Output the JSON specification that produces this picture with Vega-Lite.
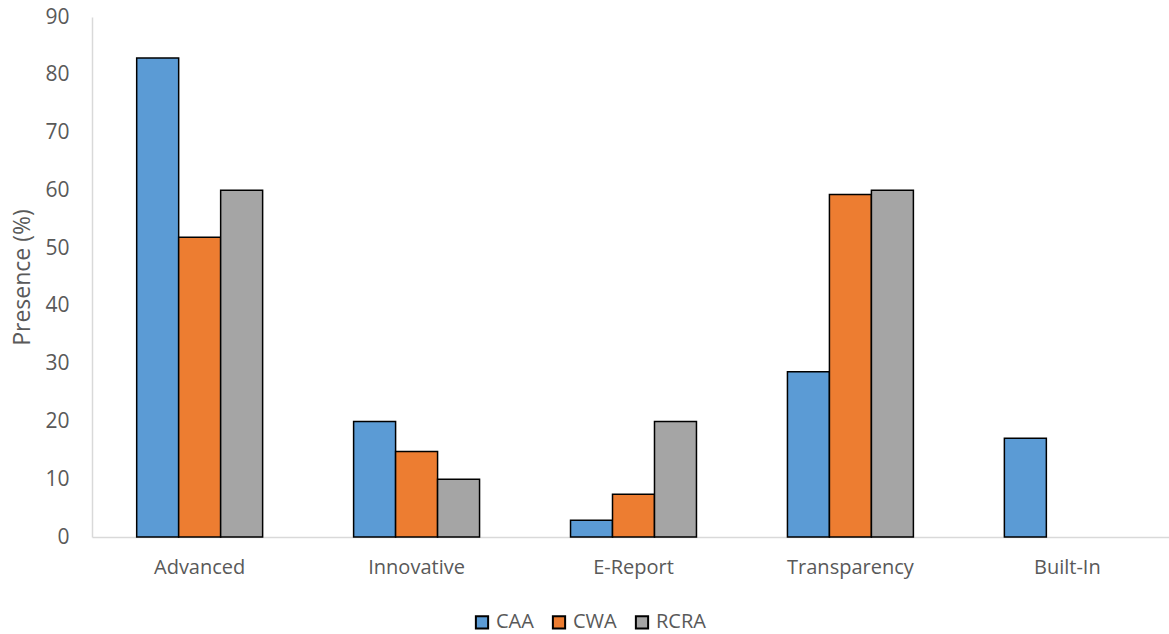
{
  "$schema": "https://vega.github.io/schema/vega-lite/v6.json",
  "width": 1083,
  "height": 520,
  "autosize": {"type": "none"},
  "padding": {"left": 92, "top": 17, "right": 0, "bottom": 97},
  "background": "white",
  "config": {
    "view": {"stroke": null},
    "font": "Open Sans",
    "text": {"color": "#595959"}
  },
  "data": {
    "values": [
      {"category": "Advanced", "act": "CAA", "presence": 82.9},
      {"category": "Advanced", "act": "CWA", "presence": 51.9},
      {"category": "Advanced", "act": "RCRA", "presence": 60},
      {"category": "Innovative", "act": "CAA", "presence": 20},
      {"category": "Innovative", "act": "CWA", "presence": 14.8},
      {"category": "Innovative", "act": "RCRA", "presence": 10},
      {"category": "E-Report", "act": "CAA", "presence": 2.9},
      {"category": "E-Report", "act": "CWA", "presence": 7.4},
      {"category": "E-Report", "act": "RCRA", "presence": 20},
      {"category": "Transparency", "act": "CAA", "presence": 28.6},
      {"category": "Transparency", "act": "CWA", "presence": 59.3},
      {"category": "Transparency", "act": "RCRA", "presence": 60},
      {"category": "Built-In", "act": "CAA", "presence": 17.1}
    ]
  },
  "mark": {"type": "bar", "stroke": "black", "strokeWidth": 1.5},
  "encoding": {
    "x": {
      "field": "category",
      "type": "nominal",
      "sort": ["Advanced", "Innovative", "E-Report", "Transparency", "Built-In"],
      "scale": {"paddingInner": 0.4194, "paddingOuter": 0.206},
      "axis": {
        "title": null,
        "labelAngle": 0,
        "labelFont": "Open Sans",
        "labelFontSize": 20,
        "labelColor": "#595959",
        "labelPadding": 20,
        "ticks": false,
        "domainColor": "#d9d9d9",
        "domainWidth": 1.5
      }
    },
    "xOffset": {
      "field": "act",
      "type": "nominal",
      "sort": ["CAA", "CWA", "RCRA"],
      "scale": {"paddingInner": 0, "paddingOuter": 0}
    },
    "y": {
      "field": "presence",
      "type": "quantitative",
      "scale": {"domain": [0, 90], "nice": false},
      "axis": {
        "title": "Presence (%)",
        "titleFont": "Open Sans",
        "titleFontSize": 23,
        "titleFontWeight": "normal",
        "titleColor": "#595959",
        "titlePadding": 10,
        "values": [0, 10, 20, 30, 40, 50, 60, 70, 80, 90],
        "labelFont": "Open Sans",
        "labelFontSize": 21,
        "labelColor": "#595959",
        "labelPadding": 23,
        "ticks": false,
        "grid": false,
        "domainColor": "#d9d9d9",
        "domainWidth": 1.5
      }
    },
    "color": {
      "field": "act",
      "type": "nominal",
      "sort": ["CAA", "CWA", "RCRA"],
      "scale": {"domain": ["CAA", "CWA", "RCRA"], "range": ["#5B9BD5", "#ED7D31", "#A5A5A5"]},
      "legend": {
        "title": null,
        "orient": "none",
        "legendX": 380,
        "legendY": 595,
        "padding": 0,
        "direction": "horizontal",
        "symbolType": "square",
        "symbolSize": 150,
        "symbolStrokeColor": "black",
        "symbolStrokeWidth": 2,
        "labelFont": "Open Sans",
        "labelFontSize": 20,
        "labelColor": "#595959",
        "labelOffset": 4,
        "columnPadding": 14
      }
    }
  }
}
